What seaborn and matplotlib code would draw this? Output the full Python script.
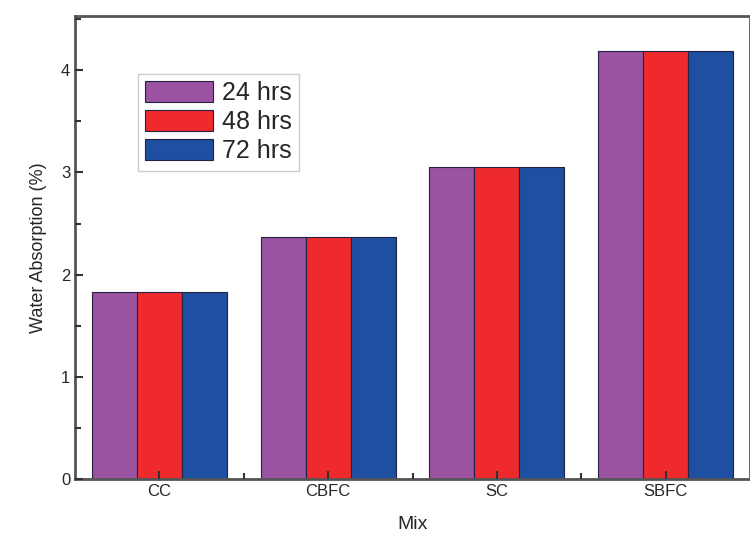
import numpy as np
import pandas as pd
import matplotlib
matplotlib.use('Agg')
import matplotlib.pyplot as plt
import seaborn as sns
from matplotlib.ticker import MultipleLocator

mixes = ['CC', 'CBFC', 'SC', 'SBFC']
hours = ['24 hrs', '48 hrs', '72 hrs']
vals_24 = [1.83, 2.37, 3.05, 4.19]
vals_48 = [1.83, 2.37, 3.05, 4.19]
vals_72 = [1.83, 2.37, 3.05, 4.19]
colors = ['#9b52a0', '#ee2a2c', '#1f4fa0']

df = pd.DataFrame({
    'Mix': mixes * 3,
    'Time': [h for h in hours for _ in mixes],
    'Water': vals_24 + vals_48 + vals_72,
})

sns.set_style('ticks')
plt.rcParams['font.family'] = ['Liberation Sans', 'DejaVu Sans']

fig = plt.figure(figsize=(7.5, 5.37), dpi=100)
ax = fig.add_axes([0.1, 0.108, 0.9, 0.862])

sns.barplot(data=df, x='Mix', y='Water', hue='Time', palette=colors,
            width=0.8, saturation=1, edgecolor='#222244', linewidth=0.8, ax=ax)

# keep ticks on top of the bars
for p in ax.patches:
    p.set_zorder(0.5)
ax.set_axisbelow(False)

ax.set_xlim(-0.5, 3.5)
ax.set_ylim(0, 4.53)
ax.yaxis.set_major_locator(MultipleLocator(1))
ax.yaxis.set_minor_locator(MultipleLocator(0.5))
ax.set_xticks([0, 1, 2, 3])
ax.set_xticks([0.5, 1.5, 2.5], minor=True)
ax.tick_params(which='both', direction='in', color='#333333', width=1.5)
ax.tick_params(which='major', length=6, labelsize=12)
ax.tick_params(which='minor', length=4)
for s in ax.spines.values():
    s.set_linewidth(2)
    s.set_color('#555555')

ax.set_ylabel('Water Absorption (%)', fontsize=13, labelpad=10)
ax.set_xlabel('Mix', fontsize=14, labelpad=12)

leg = ax.legend(loc='upper left', bbox_to_anchor=(0.093, 0.875), fontsize=18,
                frameon=True, fancybox=False, edgecolor='#cccccc', framealpha=1,
                handlelength=2.7, handleheight=0.9, handletextpad=0.35,
                labelspacing=0.2, borderpad=0.3, borderaxespad=0)
leg.set_zorder(5)

fig.savefig('out.png', dpi=100)
